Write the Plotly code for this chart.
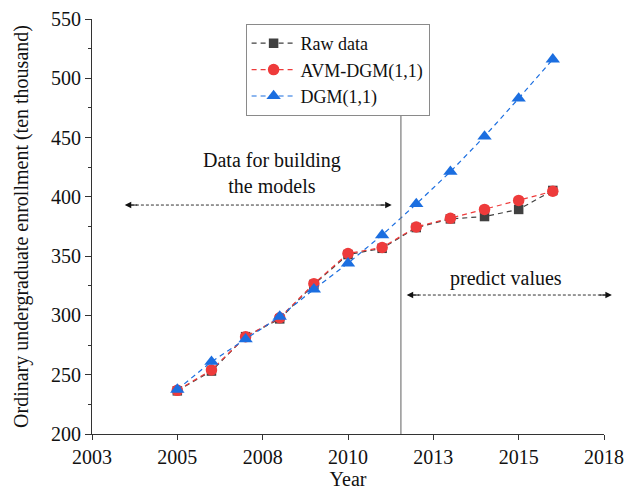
import plotly.graph_objects as go

# Ordinary undergraduate enrollment (ten thousand), 2005-2016
years = [2005, 2006, 2007, 2008, 2009, 2010, 2011, 2012, 2013, 2014, 2015, 2016]
raw_data = [236.4, 253.1, 282.1, 297.1, 326.1, 351.3, 356.6, 374.1, 381.4, 383.4, 389.4, 405.4]
avm_dgm = [236.8, 254.0, 282.0, 298.0, 326.8, 352.2, 357.3, 374.6, 382.0, 389.4, 397.0, 404.7]
dgm = [237.5, 261.0, 280.0, 299.0, 322.0, 344.0, 367.8, 394.0, 421.2, 451.0, 483.0, 516.0]

x_tickvals = [2002.5, 2005, 2007.5, 2010, 2012.5, 2015, 2017.5]
x_ticktext = ["2003", "2005", "2008", "2010", "2013", "2015", "2018"]
y_tickvals = [200, 250, 300, 350, 400, 450, 500, 550]

X_MIN, X_MAX = 2002.5, 2017.5
split_year = 2011.55

FONT = "Liberation Serif, Times New Roman, serif"
DASH = "5px,4px"

fig = go.Figure()

fig.add_trace(go.Scatter(
    x=years, y=raw_data, name="Raw data", mode="lines+markers",
    line=dict(color="#404040", width=1.2, dash=DASH),
    marker=dict(symbol="square", size=9.5, color="#404040"),
))
fig.add_trace(go.Scatter(
    x=years, y=avm_dgm, name="AVM-DGM(1,1)", mode="lines+markers",
    line=dict(color="#EE3B3B", width=1.2, dash=DASH),
    marker=dict(symbol="circle", size=11.5, color="#EE3B3B"),
))
fig.add_trace(go.Scatter(
    x=years, y=dgm, name="DGM(1,1)", mode="lines+markers",
    line=dict(color="#1B6EE0", width=1.2, dash=DASH),
    marker=dict(symbol="triangle-up", size=12.5, color="#1B6EE0"),
))

# vertical divider between fitting and prediction periods
fig.add_shape(type="line", xref="x", yref="y", x0=split_year, x1=split_year,
              y0=200, y1=469, line=dict(color="#7a7a7a", width=1.2))

# dotted double-headed arrows (x in years, converted to paper so they may overhang)
arrows = [
    (2003.46, 2011.28, 393.1),
    (2011.72, 2017.73, 317.2),
]
for xa, xb, yv in arrows:
    pa = (xa - X_MIN) / (X_MAX - X_MIN)
    pb = (xb - X_MIN) / (X_MAX - X_MIN)
    fig.add_shape(type="line", xref="paper", yref="y", x0=pa + 0.012, x1=pb - 0.012,
                  y0=yv, y1=yv, line=dict(color="#333333", width=1, dash="3px,2px"))
    for tip, off in ((pa, 14), (pb, -14)):
        fig.add_annotation(x=tip, y=yv, xref="paper", yref="y", ax=off, ay=0,
                           axref="pixel", ayref="pixel", text="", showarrow=True,
                           arrowhead=2, arrowsize=1.3, arrowwidth=1, arrowcolor="#111111")

fig.add_annotation(x=2007.77, y=419.9, xref="x", yref="y", text="Data for building<br>the models",
                   showarrow=False, font=dict(family=FONT, size=20, color="#111111"))
fig.add_annotation(x=2014.62, y=331.3, xref="x", yref="y", text="predict values",
                   showarrow=False, font=dict(family=FONT, size=20, color="#111111"))

fig.update_layout(
    width=629, height=491,
    margin=dict(l=92, r=25, t=19, b=57),
    paper_bgcolor="white", plot_bgcolor="white",
    font=dict(family=FONT, size=20, color="#111111"),
    showlegend=True,
    legend=dict(x=0.300, y=0.988, xanchor="left", yanchor="top",
                bordercolor="#8a8a8a", borderwidth=1, bgcolor="white",
                font=dict(family=FONT, size=18, color="#111111"),
                tracegroupgap=0, itemwidth=44),
    xaxis=dict(range=[X_MIN, X_MAX], tickvals=x_tickvals, ticktext=x_ticktext,
               automargin=False,
               showgrid=False, zeroline=False, showline=True, linecolor="#333333",
               linewidth=1.2, ticks="outside", ticklen=5, tickcolor="#333333",
               title=dict(text="Year", font=dict(family=FONT, size=20), standoff=0),
               tickfont=dict(family=FONT, size=20)),
    yaxis=dict(range=[200, 550], tickvals=y_tickvals, automargin=False,
               showgrid=False, zeroline=False, showline=True, linecolor="#333333",
               linewidth=1.2, ticks="outside", ticklen=6, tickcolor="#333333",
               minor=dict(dtick=25, tick0=200, ticks="outside", ticklen=3, tickcolor="#333333"),
               title=dict(text="Ordinary undergraduate enrollment (ten thousand)",
                          font=dict(family=FONT, size=20), standoff=16),
               tickfont=dict(family=FONT, size=20)),
)

fig.write_html("out.html")
